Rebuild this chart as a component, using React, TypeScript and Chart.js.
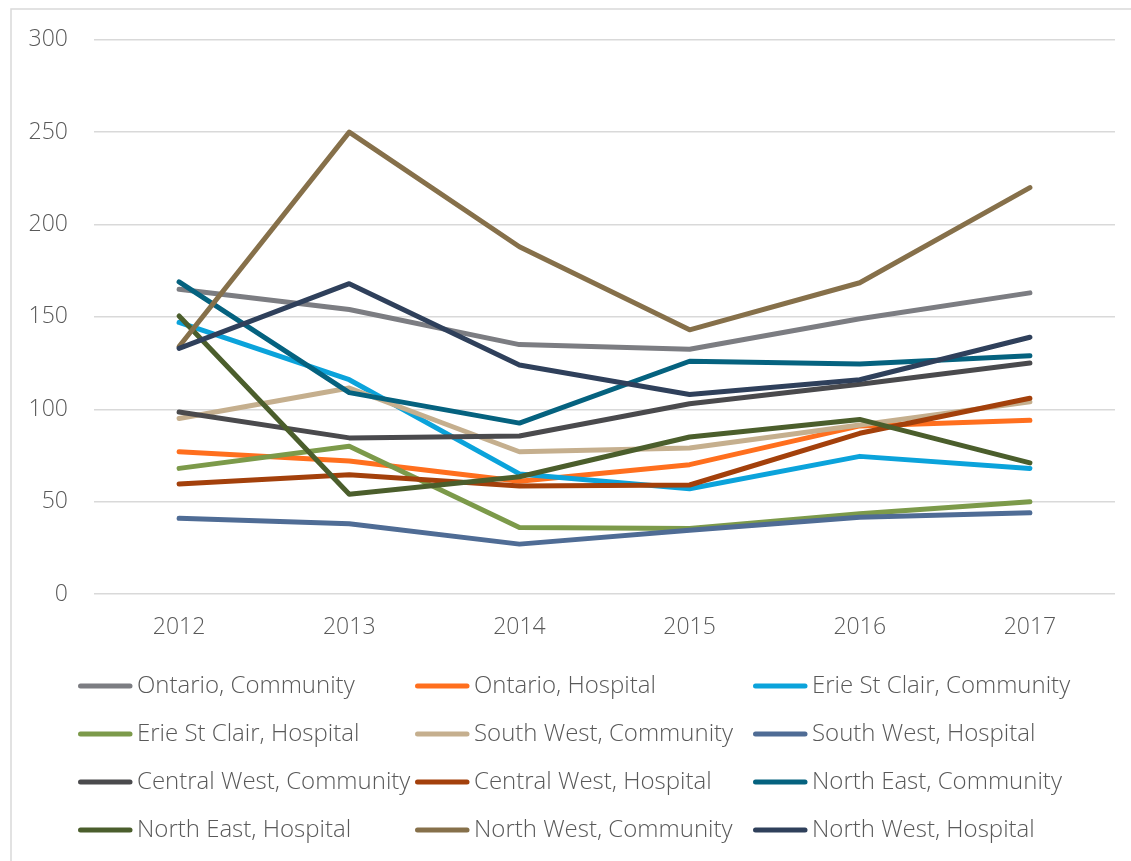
import React, { useEffect, useRef } from "react";
import { Chart, registerables } from "chart.js";

Chart.register(...registerables);

const years = ["2012", "2013", "2014", "2015", "2016", "2017"];

const seriesNames = [
  "Ontario, Community",
  "Ontario, Hospital",
  "Erie St Clair, Community",
  "Erie St Clair, Hospital",
  "South West, Community",
  "South West, Hospital",
  "Central West, Community",
  "Central West, Hospital",
  "North East, Community",
  "North East, Hospital",
  "North West, Community",
  "North West, Hospital",
];

const ontarioCommunity = [165, 154, 135, 132.5, 149, 163];
const ontarioHospital = [77, 72, 61, 70, 91, 94];
const erieCommunity = [147, 116, 65, 57, 74.5, 68];
const erieHospital = [68, 80, 36, 35.5, 43.5, 50];
const southWestCommunity = [95, 111.5, 77, 79, 91.5, 104];
const southWestHospital = [41, 38, 27, 34.5, 41.5, 44];
const centralWestCommunity = [98.5, 84.5, 85.5, 103, 113.5, 125];
const centralWestHospital = [59.5, 64.5, 58.5, 59, 87, 106];
const northEastCommunity = [169, 109, 92.5, 126, 124.5, 129];
const northEastHospital = [150.5, 54, 63.5, 85, 94.5, 71];
const northWestCommunity = [134, 250, 188, 143, 168.5, 220];
const northWestHospital = [133, 168, 124, 108, 116, 139];

const seriesValues = [
  ontarioCommunity,
  ontarioHospital,
  erieCommunity,
  erieHospital,
  southWestCommunity,
  southWestHospital,
  centralWestCommunity,
  centralWestHospital,
  northEastCommunity,
  northEastHospital,
  northWestCommunity,
  northWestHospital,
];

const seriesColors = [
  "#7c7d82",
  "#ff6f1e",
  "#0ba3db",
  "#7c9a4a",
  "#c5af8e",
  "#4f6c95",
  "#4a4a4d",
  "#a3400b",
  "#05627f",
  "#4b5e2c",
  "#86704a",
  "#2f405b",
];

const yTicks = [0, 50, 100, 150, 200, 250, 300];

const FONT = "'Open Sans', 'Noto Sans', sans-serif";
const TEXT_COLOR = "#595959";
const GRID_COLOR = "#d9d9d9";

const legendPlugin = {
  id: "excelLegend",
  afterDraw(chart: any) {
    const ctx = chart.ctx;
    ctx.save();
    // chart area frame (top & left edges visible)
    ctx.strokeStyle = GRID_COLOR;
    ctx.lineWidth = 1.5;
    ctx.beginPath();
    ctx.moveTo(11, chart.height + 10);
    ctx.lineTo(11, 9);
    ctx.lineTo(chart.width + 10, 9);
    ctx.stroke();

    const colX = [78, 415, 753];
    const rowY0 = 686;
    const rowGap = 48;
    ctx.font = `300 24px ${FONT}`;
    ctx.textBaseline = "middle";
    ctx.textAlign = "left";
    chart.data.datasets.forEach((ds: any, i: number) => {
      const col = i % 3;
      const row = Math.floor(i / 3);
      const x = colX[col];
      const y = rowY0 + row * rowGap;
      ctx.strokeStyle = ds.borderColor;
      ctx.lineWidth = 5;
      ctx.lineCap = "round";
      ctx.beginPath();
      ctx.moveTo(x + 2.5, y);
      ctx.lineTo(x + 52, y);
      ctx.stroke();
      ctx.fillStyle = TEXT_COLOR;
      ctx.fillText(ds.label, x + 59, y);
    });
    ctx.restore();
  },
};

export default function App() {
  const canvasRef = useRef<HTMLCanvasElement | null>(null);

  useEffect(() => {
    document.body.style.margin = "0";
    const canvas = canvasRef.current;
    if (!canvas) return;
    const n = seriesNames.length;
    const chart = new Chart(canvas, {
      type: "line",
      data: {
        labels: years,
        datasets: seriesNames.map((name, i) => ({
          label: name,
          data: seriesValues[i],
          borderColor: seriesColors[i],
          backgroundColor: seriesColors[i],
          borderWidth: 5,
          pointRadius: 0,
          pointHoverRadius: 0,
          tension: 0,
          fill: false,
          borderCapStyle: "round",
          borderJoinStyle: "round",
          order: n - i,
        })),
      },
      options: {
        responsive: false,
        animation: false,
        layout: { padding: { left: 0, top: 38, right: 16, bottom: 0 } },
        plugins: {
          legend: { display: false },
          tooltip: { enabled: false },
          title: { display: false },
        },
        scales: {
          x: {
            type: "category",
            offset: true,
            grid: { display: false, drawTicks: false },
            border: { display: false },
            ticks: {
              color: TEXT_COLOR,
              font: { family: FONT, size: 23, weight: "300" },
              padding: 20,
              maxRotation: 0,
            },
            afterFit: (s: any) => {
              s.height = 267;
            },
          },
          y: {
            min: 0,
            max: 300,
            afterBuildTicks: (s: any) => {
              s.ticks = yTicks.map((v) => ({ value: v }));
            },
            grid: {
              color: GRID_COLOR,
              lineWidth: 1.5,
              drawTicks: false,
            },
            border: { display: false },
            ticks: {
              color: TEXT_COLOR,
              font: { family: FONT, size: 23, weight: "300" },
              padding: 26,
            },
            afterFit: (s: any) => {
              s.width = 94;
            },
          },
        },
      },
      plugins: [legendPlugin],
    });
    return () => chart.destroy();
  }, []);

  return (
    <div style={{ position: "fixed", left: 0, top: 0, width: 1131, height: 861, background: "#fff" }}>
      <canvas ref={canvasRef} width={1131} height={861} style={{ display: "block" }} />
    </div>
  );
}
